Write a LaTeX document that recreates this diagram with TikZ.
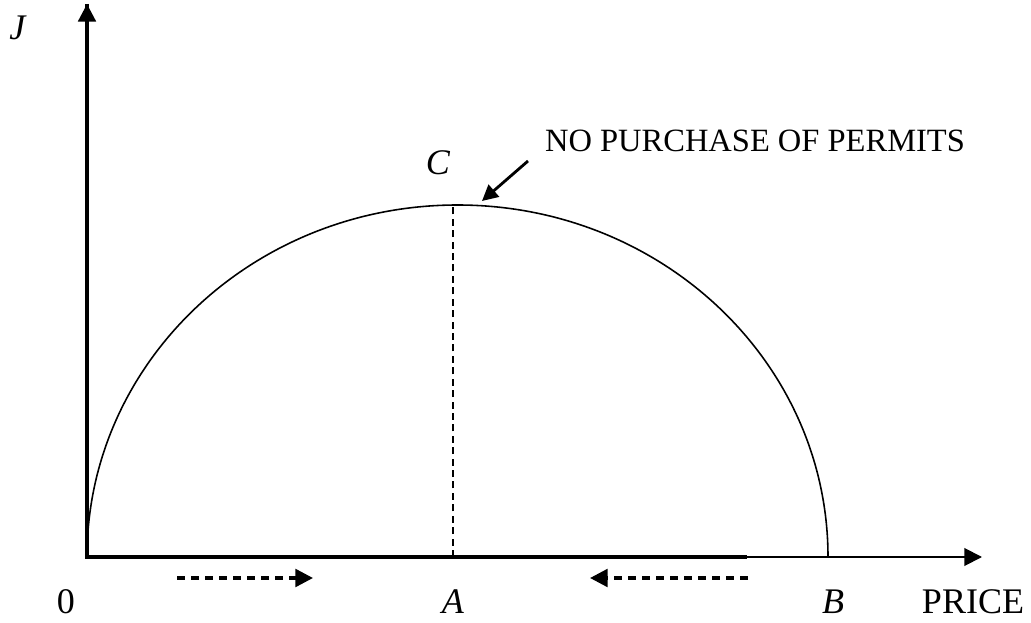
\documentclass[tikz,border=0pt]{standalone}
\usepackage{fontspec}
\setmainfont{Liberation Serif}
\usepackage{tikz}
\usetikzlibrary{arrows.meta,positioning,calc}

\begin{document}
\begin{tikzpicture}[x=0.02cm,y=0.02cm,
  lbl/.style={font=\fontsize{20.5}{23}\selectfont,inner sep=0pt},
  note/.style={font=\fontsize{18.5}{21}\selectfont,inner sep=0pt},
  tip/.style={-{Triangle[length=10pt,width=10pt]}},
  pricedir/.style={tip,line width=1.9pt,dash pattern=on 4.5pt off 3.5pt}]
\useasboundingbox (0,0) rectangle (1031,622);
\coordinate (O) at (87,65);
\coordinate (Ytop) at (87,618);
\coordinate (Xmid) at (747,65);
\coordinate (Xend) at (982,65);
\coordinate (Apt) at (453,65);
\coordinate (Cpt) at (453,416);
% axes
\draw[line width=1.8pt] (Ytop) -- (O) -- (Xmid);
\draw[line width=1.1pt,tip] (Xmid) -- (Xend);
\draw[line width=1.8pt,tip] (O) -- (Ytop);
% curve
\draw[line width=0.9pt] (O) arc[start angle=180,end angle=0,x radius=370.5,y radius=352];
\draw[line width=1.1pt,dash pattern=on 4pt off 2.5pt] (Apt) -- (Cpt);
% labels
\node[lbl] (J) at (18,594) {\textit{J}};
\node[lbl] (C) at (438,459) {\textit{C}};
\node[lbl] (zero) at (66,20) {0};
\node[lbl] (A) at (453,20) {\textit{A}};
\node[lbl] (B) at (833,20) {\textit{B}};
\node[lbl] (price) at (973,20) {PRICE};
\node[note] (nopurch) at (755,481) {NO PURCHASE OF PERMITS};
\coordinate (tail) at (528,461);
\coordinate (head) at (482,421);
\draw[line width=1.6pt,-{Triangle[length=9pt,width=9pt]}] (tail) -- (head);
% direction of price
\coordinate (l1) at (177,44); \coordinate (l2) at (313,44);
\coordinate (r1) at (748,44); \coordinate (r2) at (590,44);
\draw[pricedir] (l1) -- (l2);
\draw[pricedir] (r1) -- (r2);
\end{tikzpicture}
\end{document}
